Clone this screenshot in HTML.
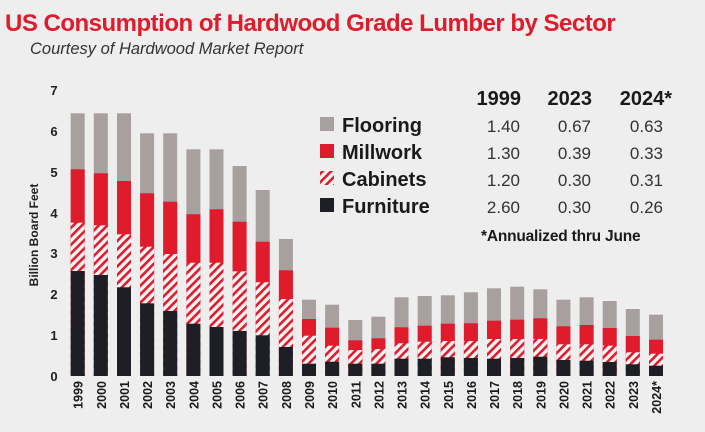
<!DOCTYPE html>
<html><head><meta charset="utf-8"><style>
body{margin:0;background:#eeeeee;}
svg{display:block;font-family:"Liberation Sans",sans-serif;}
</style></head><body>
<svg width="705" height="432" viewBox="0 0 705 432" xmlns="http://www.w3.org/2000/svg">
<defs>
<pattern id="h" patternUnits="userSpaceOnUse" width="6" height="6" patternTransform="rotate(45)">
<rect width="6" height="6" fill="#f4f4f4"/><rect width="2.6" height="6" fill="#e01b2b"/>
</pattern>
</defs>
<rect width="705" height="432" fill="#eeeeee"/>
<text x="5" y="31" font-size="24" font-weight="bold" fill="#e01b2b" letter-spacing="-0.5">US Consumption of Hardwood Grade Lumber by Sector</text>
<text x="30" y="54" font-size="16.5" font-style="italic" fill="#333">Courtesy of Hardwood Market Report</text>
<text transform="translate(38,235) rotate(-90)" text-anchor="middle" font-size="12" font-weight="bold" fill="#222">Billion Board Feet</text>
<g font-size="13" font-weight="bold" fill="#222" text-anchor="middle">
<text x="54" y="381">0</text><text x="54" y="340">1</text><text x="54" y="299">2</text><text x="54" y="258">3</text><text x="54" y="218">4</text><text x="54" y="177">5</text><text x="54" y="136">6</text><text x="54" y="95">7</text>
</g>
<g fill="#a8a09e">
<rect x="70.7" y="113.3" width="14" height="262.7"/><rect x="93.8" y="113.3" width="14" height="262.7"/><rect x="117.0" y="113.3" width="14" height="262.7"/><rect x="140.1" y="133.3" width="14" height="242.7"/><rect x="163.2" y="133.3" width="14" height="242.7"/><rect x="186.4" y="149.3" width="14" height="226.7"/><rect x="209.5" y="149.3" width="14" height="226.7"/><rect x="232.6" y="166" width="14" height="210"/><rect x="255.7" y="190" width="14" height="186"/><rect x="278.9" y="239" width="14" height="137"/><rect x="302.0" y="299.7" width="14" height="76.3"/><rect x="325.1" y="304.7" width="14" height="71.3"/><rect x="348.3" y="320" width="14" height="56"/><rect x="371.4" y="316.7" width="14" height="59.3"/><rect x="394.5" y="297.3" width="14" height="78.7"/><rect x="417.7" y="296" width="14" height="80"/><rect x="440.8" y="295.3" width="14" height="80.7"/><rect x="463.9" y="292.3" width="14" height="83.7"/><rect x="487.0" y="288.3" width="14" height="87.7"/><rect x="510.2" y="286.7" width="14" height="89.3"/><rect x="533.3" y="289.3" width="14" height="86.7"/><rect x="556.4" y="299.7" width="14" height="76.3"/><rect x="579.6" y="297.3" width="14" height="78.7"/><rect x="602.7" y="301" width="14" height="75"/><rect x="625.8" y="309" width="14" height="67"/><rect x="649.0" y="314.7" width="14" height="61.3"/>
</g>
<g fill="#e01b2b">
<rect x="70.7" y="169.3" width="14" height="206.7"/><rect x="93.8" y="173.3" width="14" height="202.7"/><rect x="117.0" y="181" width="14" height="195"/><rect x="140.1" y="193.3" width="14" height="182.7"/><rect x="163.2" y="201.7" width="14" height="174.3"/><rect x="186.4" y="214.3" width="14" height="161.7"/><rect x="209.5" y="209.3" width="14" height="166.7"/><rect x="232.6" y="221.7" width="14" height="154.3"/><rect x="255.7" y="241.7" width="14" height="134.3"/><rect x="278.9" y="270.3" width="14" height="105.7"/><rect x="302.0" y="319" width="14" height="57"/><rect x="325.1" y="327.7" width="14" height="48.3"/><rect x="348.3" y="340.3" width="14" height="35.7"/><rect x="371.4" y="338.3" width="14" height="37.7"/><rect x="394.5" y="327.3" width="14" height="48.7"/><rect x="417.7" y="325.7" width="14" height="50.3"/><rect x="440.8" y="323.7" width="14" height="52.3"/><rect x="463.9" y="323.3" width="14" height="52.7"/><rect x="487.0" y="320.7" width="14" height="55.3"/><rect x="510.2" y="319.7" width="14" height="56.3"/><rect x="533.3" y="318.3" width="14" height="57.7"/><rect x="556.4" y="326.3" width="14" height="49.7"/><rect x="579.6" y="325" width="14" height="51"/><rect x="602.7" y="328" width="14" height="48"/><rect x="625.8" y="336" width="14" height="40"/><rect x="649.0" y="339.7" width="14" height="36.3"/>
</g>
<g fill="url(#h)">
<rect x="70.7" y="222.7" width="14" height="153.3"/><rect x="93.8" y="225.3" width="14" height="150.7"/><rect x="117.0" y="234.3" width="14" height="141.7"/><rect x="140.1" y="246.7" width="14" height="129.3"/><rect x="163.2" y="254" width="14" height="122"/><rect x="186.4" y="262.7" width="14" height="113.3"/><rect x="209.5" y="262.7" width="14" height="113.3"/><rect x="232.6" y="271.3" width="14" height="104.7"/><rect x="255.7" y="282.3" width="14" height="93.7"/><rect x="278.9" y="299" width="14" height="77"/><rect x="302.0" y="335.7" width="14" height="40.3"/><rect x="325.1" y="345.7" width="14" height="30.3"/><rect x="348.3" y="350" width="14" height="26"/><rect x="371.4" y="349" width="14" height="27"/><rect x="394.5" y="343.3" width="14" height="32.7"/><rect x="417.7" y="341.7" width="14" height="34.3"/><rect x="440.8" y="341" width="14" height="35"/><rect x="463.9" y="341" width="14" height="35"/><rect x="487.0" y="339" width="14" height="37"/><rect x="510.2" y="339" width="14" height="37"/><rect x="533.3" y="339" width="14" height="37"/><rect x="556.4" y="344.3" width="14" height="31.7"/><rect x="579.6" y="344.3" width="14" height="31.7"/><rect x="602.7" y="345.7" width="14" height="30.3"/><rect x="625.8" y="352.3" width="14" height="23.7"/><rect x="649.0" y="353.7" width="14" height="22.3"/>
</g>
<g fill="#1e1f24">
<rect x="70.7" y="271" width="14" height="105"/><rect x="93.8" y="275" width="14" height="101"/><rect x="117.0" y="287.3" width="14" height="88.7"/><rect x="140.1" y="303.3" width="14" height="72.7"/><rect x="163.2" y="311" width="14" height="65"/><rect x="186.4" y="323.7" width="14" height="52.3"/><rect x="209.5" y="327" width="14" height="49"/><rect x="232.6" y="331" width="14" height="45"/><rect x="255.7" y="335.3" width="14" height="40.7"/><rect x="278.9" y="347" width="14" height="29"/><rect x="302.0" y="363.7" width="14" height="12.3"/><rect x="325.1" y="361.7" width="14" height="14.3"/><rect x="348.3" y="363.7" width="14" height="12.3"/><rect x="371.4" y="363.7" width="14" height="12.3"/><rect x="394.5" y="358.7" width="14" height="17.3"/><rect x="417.7" y="358.7" width="14" height="17.3"/><rect x="440.8" y="357.3" width="14" height="18.7"/><rect x="463.9" y="358" width="14" height="18"/><rect x="487.0" y="358.7" width="14" height="17.3"/><rect x="510.2" y="358" width="14" height="18"/><rect x="533.3" y="356.7" width="14" height="19.3"/><rect x="556.4" y="360" width="14" height="16"/><rect x="579.6" y="360.7" width="14" height="15.3"/><rect x="602.7" y="362" width="14" height="14"/><rect x="625.8" y="364.3" width="14" height="11.7"/><rect x="649.0" y="365.7" width="14" height="10.3"/>
</g>
<g font-size="12.5" font-weight="bold" fill="#1a1a1a" text-anchor="end">
<text transform="translate(82.7,381) rotate(-90)">1999</text><text transform="translate(105.8,381) rotate(-90)">2000</text><text transform="translate(129.0,381) rotate(-90)">2001</text><text transform="translate(152.1,381) rotate(-90)">2002</text><text transform="translate(175.2,381) rotate(-90)">2003</text><text transform="translate(198.4,381) rotate(-90)">2004</text><text transform="translate(221.5,381) rotate(-90)">2005</text><text transform="translate(244.6,381) rotate(-90)">2006</text><text transform="translate(267.7,381) rotate(-90)">2007</text><text transform="translate(290.9,381) rotate(-90)">2008</text><text transform="translate(314.0,381) rotate(-90)">2009</text><text transform="translate(337.1,381) rotate(-90)">2010</text><text transform="translate(360.3,381) rotate(-90)">2011</text><text transform="translate(383.4,381) rotate(-90)">2012</text><text transform="translate(406.5,381) rotate(-90)">2013</text><text transform="translate(429.7,381) rotate(-90)">2014</text><text transform="translate(452.8,381) rotate(-90)">2015</text><text transform="translate(475.9,381) rotate(-90)">2016</text><text transform="translate(499.0,381) rotate(-90)">2017</text><text transform="translate(522.2,381) rotate(-90)">2018</text><text transform="translate(545.3,381) rotate(-90)">2019</text><text transform="translate(568.4,381) rotate(-90)">2020</text><text transform="translate(591.6,381) rotate(-90)">2021</text><text transform="translate(614.7,381) rotate(-90)">2022</text><text transform="translate(637.8,381) rotate(-90)">2023</text><text transform="translate(661.0,381) rotate(-90)">2024*</text>
</g>
<g font-size="20" font-weight="bold" fill="#1a1a1a">
<rect x="320" y="117" width="14" height="14" fill="#a8a09e"/><text x="342" y="132">Flooring</text>
<rect x="320" y="144" width="14" height="14" fill="#e01b2b"/><text x="342" y="159">Millwork</text>
<rect x="320" y="171" width="14" height="14" fill="url(#h)"/><text x="342" y="186">Cabinets</text>
<rect x="320" y="198" width="14" height="14" fill="#1e1f24"/><text x="342" y="213">Furniture</text>
<g text-anchor="end"><text x="521" y="105">1999</text><text x="592" y="105">2023</text><text x="672" y="105">2024*</text></g>
</g>
<g font-size="17" fill="#333" text-anchor="end">
<text x="520" y="132">1.40</text><text x="591" y="132">0.67</text><text x="663" y="132">0.63</text>
<text x="520" y="159">1.30</text><text x="591" y="159">0.39</text><text x="663" y="159">0.33</text>
<text x="520" y="186">1.20</text><text x="591" y="186">0.30</text><text x="663" y="186">0.31</text>
<text x="520" y="213">2.60</text><text x="591" y="213">0.30</text><text x="663" y="213">0.26</text>
</g>
<text x="481" y="241" font-size="15.5" font-weight="bold" fill="#1a1a1a" letter-spacing="-0.2">*Annualized thru June</text>
</svg>
</body></html>
